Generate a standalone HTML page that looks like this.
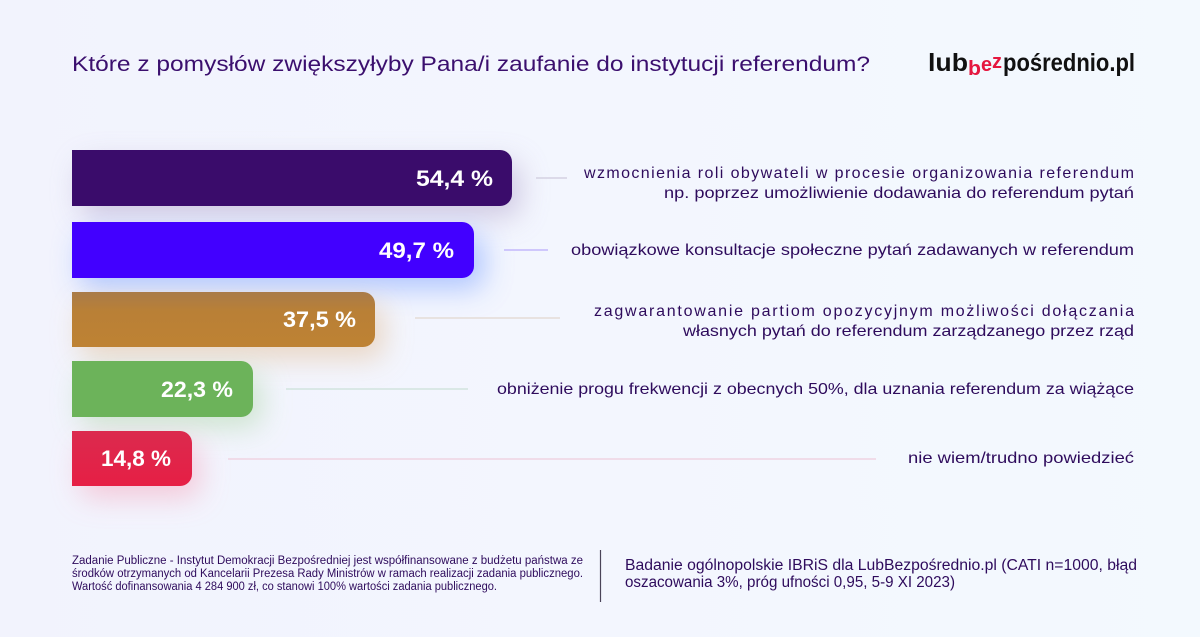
<!DOCTYPE html>
<html><head><meta charset="utf-8"><style>
html,body{margin:0;padding:0;width:1200px;height:637px;overflow:hidden;}
body{background:linear-gradient(90deg,#f2f3fd 0%,#f3f6fe 50%,#f3f9fe 100%);}
svg{display:block;}
text{font-family:"Liberation Sans",sans-serif;}
</style></head><body>
<svg width="1200" height="637" viewBox="0 0 1200 637" xmlns="http://www.w3.org/2000/svg">
<defs>
<filter id="blur" x="-40%" y="-100%" width="180%" height="300%"><feGaussianBlur stdDeviation="14"/></filter>
<linearGradient id="g3" x1="0" y1="0" x2="0" y2="1"><stop offset="0" stop-color="#a97b4a"/><stop offset="0.35" stop-color="#b98036"/><stop offset="1" stop-color="#be8234"/></linearGradient>
<linearGradient id="g5" x1="0" y1="0" x2="0" y2="1"><stop offset="0" stop-color="#db2a4e"/><stop offset="1" stop-color="#e61f45"/></linearGradient>
</defs>

<!-- Title -->
<text x="72" y="71" font-size="21" fill="#3b0f6e" textLength="798" lengthAdjust="spacingAndGlyphs">Które z pomysłów zwiększyłyby Pana/i zaufanie do instytucji referendum?</text>

<!-- Logo -->
<text x="928" y="71" font-size="25" font-weight="bold" fill="#111" textLength="40" lengthAdjust="spacingAndGlyphs">lub</text>
<text x="968" y="75" font-size="20" font-weight="bold" fill="#e5173f" textLength="13" lengthAdjust="spacingAndGlyphs">b</text>
<text x="981" y="71" font-size="20" font-weight="bold" fill="#e5173f" textLength="11" lengthAdjust="spacingAndGlyphs">e</text>
<text x="992" y="68" font-size="20" font-weight="bold" fill="#e5173f" textLength="10" lengthAdjust="spacingAndGlyphs">z</text>
<text x="1003" y="71" font-size="25" font-weight="bold" fill="#111" textLength="132" lengthAdjust="spacingAndGlyphs">pośrednio.pl</text>

<!-- Shadows -->
<rect x="80" y="162" width="440" height="55" rx="12" fill="#c6bedc" opacity="0.8" filter="url(#blur)"/>
<rect x="80" y="234" width="404" height="55" rx="12" fill="#a9c1ff" opacity="0.9" filter="url(#blur)"/>
<rect x="80" y="304" width="304" height="55" rx="12" fill="#e8d2bc" opacity="0.85" filter="url(#blur)"/>
<rect x="80" y="373" width="182" height="55" rx="12" fill="#c8e2c8" opacity="0.85" filter="url(#blur)"/>
<rect x="80" y="443" width="120" height="55" rx="12" fill="#f4c2d4" opacity="0.85" filter="url(#blur)"/>

<!-- Bars -->
<path d="M72,150 H500 A12,12 0 0 1 512,162 V194 A12,12 0 0 1 500,206 H72 Z" fill="#3a0c6b"/>
<path d="M72,222 H462 A12,12 0 0 1 474,234 V266 A12,12 0 0 1 462,278 H72 Z" fill="#4200ff"/>
<path d="M72,292 H363 A12,12 0 0 1 375,304 V335 A12,12 0 0 1 363,347 H72 Z" fill="url(#g3)"/>
<path d="M72,361 H241 A12,12 0 0 1 253,373 V405 A12,12 0 0 1 241,417 H72 Z" fill="#6cb35a"/>
<path d="M72,431 H180 A12,12 0 0 1 192,443 V474 A12,12 0 0 1 180,486 H72 Z" fill="url(#g5)"/>

<!-- Bar labels -->
<g font-size="22" font-weight="bold" fill="#ffffff" text-anchor="end">
<text x="493" y="186" textLength="77" lengthAdjust="spacingAndGlyphs">54,4 %</text>
<text x="454" y="258" textLength="75" lengthAdjust="spacingAndGlyphs">49,7 %</text>
<text x="356" y="327" textLength="73" lengthAdjust="spacingAndGlyphs">37,5 %</text>
<text x="233" y="397" textLength="72" lengthAdjust="spacingAndGlyphs">22,3 %</text>
<text x="171" y="466" textLength="70" lengthAdjust="spacingAndGlyphs">14,8 %</text>
</g>

<!-- Connector lines -->
<g stroke-width="1.5">
<line x1="536" y1="178" x2="567" y2="178" stroke="#d4d1e2"/>
<line x1="504" y1="250" x2="548" y2="250" stroke="#c3b8fb"/>
<line x1="415" y1="318" x2="560" y2="318" stroke="#e4dbd6"/>
<line x1="286" y1="389" x2="468" y2="389" stroke="#d1e4de"/>
<line x1="228" y1="459" x2="876" y2="459" stroke="#efd3e2"/>
</g>

<!-- Right descriptions -->
<g font-size="16" fill="#2e0b5c" text-anchor="end">
<text x="1134" y="178" textLength="550" lengthAdjust="spacing">wzmocnienia roli obywateli w procesie organizowania referendum</text>
<text x="1134" y="198" textLength="470" lengthAdjust="spacingAndGlyphs">np. poprzez umożliwienie dodawania do referendum pytań</text>
<text x="1134" y="255" textLength="563" lengthAdjust="spacingAndGlyphs">obowiązkowe konsultacje społeczne pytań zadawanych w referendum</text>
<text x="1134" y="316" textLength="540" lengthAdjust="spacing">zagwarantowanie partiom opozycyjnym możliwości dołączania</text>
<text x="1134" y="336" textLength="451" lengthAdjust="spacingAndGlyphs">własnych pytań do referendum zarządzanego przez rząd</text>
<text x="1134" y="394" textLength="637" lengthAdjust="spacingAndGlyphs">obniżenie progu frekwencji z obecnych 50%, dla uznania referendum za wiążące</text>
<text x="1134" y="463" textLength="226" lengthAdjust="spacingAndGlyphs">nie wiem/trudno powiedzieć</text>
</g>

<!-- Footer left -->
<g font-size="11.5" fill="#2e0b5c">
<text x="72" y="564" textLength="511" lengthAdjust="spacingAndGlyphs">Zadanie Publiczne - Instytut Demokracji Bezpośredniej jest współfinansowane z budżetu państwa ze</text>
<text x="72" y="577" textLength="511" lengthAdjust="spacingAndGlyphs">środków otrzymanych od Kancelarii Prezesa Rady Ministrów w ramach realizacji zadania publicznego.</text>
<text x="72" y="590" textLength="425" lengthAdjust="spacingAndGlyphs">Wartość dofinansowania 4 284 900 zł, co stanowi 100% wartości zadania publicznego.</text>
</g>

<!-- Divider -->
<line x1="600.5" y1="550" x2="600.5" y2="602" stroke="#4a4458" stroke-width="1.2"/>

<!-- Footer right -->
<g font-size="15.5" fill="#2e0b5c">
<text x="625" y="570" textLength="512" lengthAdjust="spacingAndGlyphs">Badanie ogólnopolskie IBRiS dla LubBezpośrednio.pl (CATI n=1000, błąd</text>
<text x="625" y="587" textLength="330" lengthAdjust="spacingAndGlyphs">oszacowania 3%, próg ufności 0,95, 5-9 XI 2023)</text>
</g>
</svg>
</body></html>
